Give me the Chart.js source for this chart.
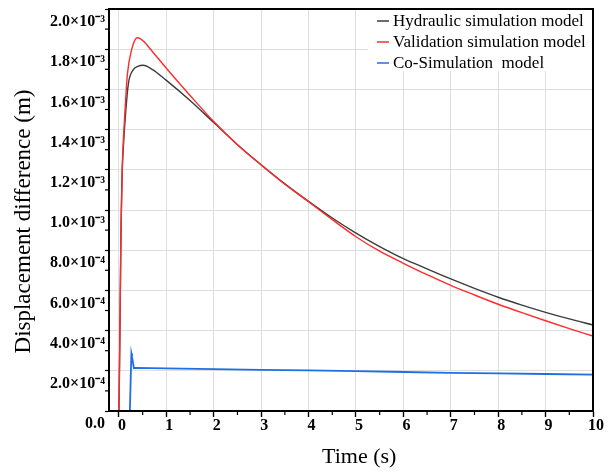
<!DOCTYPE html>
<html>
<head>
<meta charset="utf-8">
<title>Displacement difference</title>
<script src="https://cdn.jsdelivr.net/npm/chart.js@4.4.1/dist/chart.umd.min.js"></script>
<style>
  html, body { margin: 0; padding: 0; background: #fff; }
  canvas { display: block; }
</style>
</head>
<body>
<canvas id="chart" width="610" height="474"></canvas>
<script>
// Values. Time in s, displacement difference in units of 1e-3 m.
const SCALE = 1e-3;

const hydraulicTime = [0, 0.02, 0.042, 0.07, 0.1, 0.14, 0.2, 0.3, 0.4, 0.51, 0.7, 1.0, 1.5, 2.0, 2.5, 3.0, 3.5, 4.0, 4.5, 5.0, 5.5, 6.0, 6.5, 7.0, 7.5, 8.0, 8.5, 9.0, 9.5, 10.0];
const hydraulicDisp = [0, 0.39, 0.88, 1.2, 1.34, 1.48, 1.63, 1.697, 1.715, 1.72, 1.70, 1.645, 1.545, 1.435, 1.325, 1.225, 1.13, 1.043, 0.96, 0.885, 0.818, 0.758, 0.707, 0.657, 0.61, 0.566, 0.527, 0.491, 0.458, 0.428];

const validationTime = [0, 0.02, 0.042, 0.07, 0.1, 0.14, 0.18, 0.27, 0.385, 0.45, 0.55, 0.7, 1.0, 1.5, 2.0, 2.5, 3.0, 3.5, 4.0, 4.5, 5.0, 5.5, 6.0, 6.5, 7.0, 7.5, 8.0, 8.5, 9.0, 9.5, 10.0];
const validationDisp = [0, 0.39, 0.88, 1.215, 1.38, 1.547, 1.68, 1.80, 1.857, 1.853, 1.832, 1.79, 1.705, 1.57, 1.44, 1.325, 1.224, 1.128, 1.041, 0.952, 0.867, 0.795, 0.735, 0.678, 0.625, 0.577, 0.531, 0.489, 0.449, 0.41, 0.373];

const coSimTime = [0.23, 0.262, 0.275, 0.315, 0.35, 1, 2, 3, 4, 5, 6, 7, 8, 9, 10];
const coSimDisp = [0, 0.286, 0.27, 0.213, 0.215, 0.212, 0.208, 0.205, 0.202, 0.198, 0.194, 0.19, 0.187, 0.184, 0.181];

const seriesLabels = ['Hydraulic simulation model', 'Validation simulation model', 'Co-Simulation  model'];

const xTickLabels = ['0', '1', '2', '3', '4', '5', '6', '7', '8', '9', '10'];
const yTickLabels = ['0.0', '2.0×10⁻⁴', '4.0×10⁻⁴', '6.0×10⁻⁴', '8.0×10⁻⁴', '1.0×10⁻³',
                     '1.2×10⁻³', '1.4×10⁻³', '1.6×10⁻³', '1.8×10⁻³', '2.0×10⁻³'];

const SERIF = "'Liberation Serif', 'Times New Roman', serif";

function toPoints(ts, vs) {
  return ts.map((t, i) => ({ x: t, y: vs[i] * SCALE }));
}

// minor ticks halfway between the major ones, plus the legend and the closed frame
const framePlugin = {
  id: 'frame',
  afterDraw(chart) {
    const { ctx, chartArea: a, scales } = chart;
    ctx.save();

    // legend, top right inside the plot
    ctx.fillStyle = '#fff';
    ctx.fillRect(368, a.top, a.right - 368, 62);
    ctx.font = '17px ' + SERIF;
    ctx.textBaseline = 'middle';
    ctx.textAlign = 'left';
    chart.data.datasets.forEach((ds, i) => {
      const y = a.top + 12 + i * 21;
      ctx.strokeStyle = ds.borderColor;
      ctx.lineWidth = 1.5;
      ctx.beginPath();
      ctx.moveTo(377, y);
      ctx.lineTo(389, y);
      ctx.stroke();
      ctx.fillStyle = '#000';
      ctx.fillText(ds.label, 393, y + 1);
    });

    ctx.strokeStyle = '#000';
    ctx.lineWidth = 1.2;
    const xt = scales.x.ticks;
    for (let i = 0; i < xt.length - 1; i++) {
      const px = scales.x.getPixelForValue((xt[i].value + xt[i + 1].value) / 2);
      ctx.beginPath();
      ctx.moveTo(px, a.bottom);
      ctx.lineTo(px, a.bottom + 4);
      ctx.stroke();
    }
    const yt = scales.y.ticks;
    for (let i = 0; i < yt.length - 1; i++) {
      const py = scales.y.getPixelForValue((yt[i].value + yt[i + 1].value) / 2);
      ctx.beginPath();
      ctx.moveTo(a.left, py);
      ctx.lineTo(a.left - 4, py);
      ctx.stroke();
    }

    ctx.lineWidth = 2;
    ctx.strokeRect(a.left, a.top, a.right - a.left, a.bottom - a.top);
    ctx.restore();
  },
};

new Chart(document.getElementById('chart'), {
  type: 'line',
  data: {
    datasets: [
      {
        label: seriesLabels[0],
        data: toPoints(hydraulicTime, hydraulicDisp),
        borderColor: '#3c3c3c',
        borderWidth: 1.4,
        cubicInterpolationMode: 'monotone',
        order: 2,
      },
      {
        label: seriesLabels[1],
        data: toPoints(validationTime, validationDisp),
        borderColor: '#ff2b2b',
        borderWidth: 1.4,
        cubicInterpolationMode: 'monotone',
        order: 1,
      },
      {
        label: seriesLabels[2],
        data: toPoints(coSimTime, coSimDisp),
        borderColor: '#1f6fe3',
        borderWidth: 1.8,
        tension: 0,
        order: 0,
      },
    ],
  },
  options: {
    responsive: false,
    animation: false,
    parsing: false,
    events: [],
    elements: { point: { radius: 0 } },
    layout: { padding: { top: 9, right: 17, left: 0, bottom: 0 } },
    plugins: { legend: { display: false }, tooltip: { enabled: false } },
    scales: {
      x: {
        type: 'linear',
        min: -0.21,
        max: 10,
        afterFit(scale) { scale.height = 63; },
        ticks: {
          stepSize: 1,
          includeBounds: false,
          color: '#000',
          padding: 1,
          labelOffset: 3,
          maxRotation: 0,
          font: { family: SERIF, size: 16, weight: 'bold', lineHeight: 1 },
          callback(v) {
            const i = Math.round(v);
            return xTickLabels[i] !== undefined ? xTickLabels[i] : '';
          },
        },
        grid: { color: '#dedede', lineWidth: 1, tickLength: 6, tickColor: '#000', tickWidth: 1.4 },
        border: { color: '#000', width: 2 },
        title: {
          display: true,
          text: '\u00a0\u00a0\u00a0Time (s)',
          color: '#000',
          font: { family: SERIF, size: 22 },
          padding: { top: 0, bottom: 4 },
        },
      },
      y: {
        type: 'linear',
        min: 0,
        max: 0.002,
        afterFit(scale) { scale.width = 109; },
        ticks: {
          stepSize: 0.0002,
          color: '#000',
          padding: 0,
          labelOffset: 13,
          font: { family: SERIF, size: 16, weight: 'bold', lineHeight: 1 },
          callback(v, i) { return yTickLabels[i]; },
        },
        grid: { color: '#dedede', lineWidth: 1, tickLength: 4, tickColor: '#000', tickWidth: 1.2 },
        border: { color: '#000', width: 2 },
        title: {
          display: true,
          text: 'Displacement difference (m)\u2003',
          color: '#000',
          font: { family: SERIF, size: 23 },
          padding: { top: 10, bottom: 0 },
        },
      },
    },
  },
  plugins: [framePlugin],
});
</script>
</body>
</html>
